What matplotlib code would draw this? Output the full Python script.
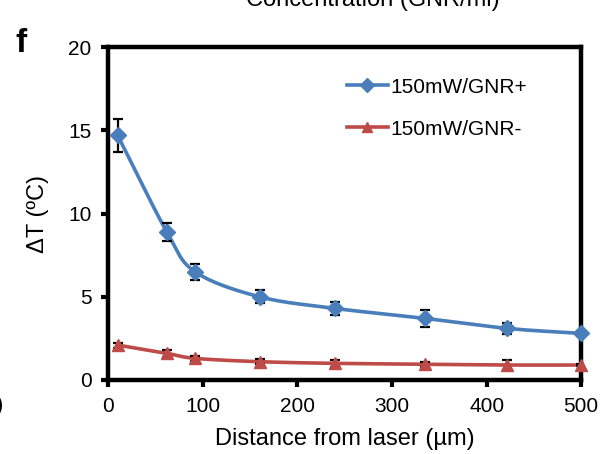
import numpy as np
import matplotlib.pyplot as plt

plt.rcParams['font.family'] = ['Liberation Sans', 'DejaVu Sans']

distance = [10, 62, 92, 160, 240, 335, 422, 500]
gnr_plus = [14.7, 8.9, 6.5, 5.0, 4.3, 3.7, 3.1, 2.8]
gnr_plus_err = [1.0, 0.55, 0.5, 0.4, 0.4, 0.5, 0.35, 0.15]
gnr_minus = [2.1, 1.6, 1.3, 1.1, 1.0, 0.95, 0.9, 0.9]
gnr_minus_err = [0.15, 0.2, 0.15, 0.15, 0.2, 0.15, 0.3, 0.05]


def smooth(x, y, n=30):
    # catmull-rom style curve through points, like excel "smoothed line"
    x = np.asarray(x, float)
    y = np.asarray(y, float)
    px = np.concatenate([[2 * x[0] - x[1]], x, [2 * x[-1] - x[-2]]])
    py = np.concatenate([[2 * y[0] - y[1]], y, [2 * y[-1] - y[-2]]])
    xs, ys = [], []
    t = np.linspace(0, 1, n)
    for i in range(1, len(px) - 2):
        for p, out in ((px, xs), (py, ys)):
            p0, p1, p2, p3 = p[i - 1], p[i], p[i + 1], p[i + 2]
            out.extend(0.5 * (2 * p1 + (-p0 + p2) * t
                              + (2 * p0 - 5 * p1 + 4 * p2 - p3) * t ** 2
                              + (-p0 + 3 * p1 - 3 * p2 + p3) * t ** 3))
    return xs, ys


blue = '#4a7ebb'
red = '#be4b48'

fig = plt.figure(figsize=(6.01, 4.54), dpi=100)
ax = fig.add_axes([0.18, 0.163, 0.787, 0.733])

for y, err, c, m, lab in [(gnr_plus, gnr_plus_err, blue, 'D', '150mW/GNR+'),
                          (gnr_minus, gnr_minus_err, red, '^', '150mW/GNR-')]:
    sx, sy = smooth(distance, y)
    ax.plot(sx, sy, color=c, lw=2.6, zorder=2)
    ax.errorbar(distance, y, yerr=err, fmt='none', ecolor='black', elinewidth=1.6,
                capsize=3.5, capthick=1.6, zorder=3)
    ax.plot(distance, y, ls='none', marker=m, color=c, ms=8 if m == 'D' else 9, zorder=4, clip_on=False)
    ax.plot([], [], color=c, lw=2.6, marker=m, ms=7, label=lab)

ax.set_xlim(0, 500)
ax.set_ylim(0, 20)
ax.set_xticks(range(0, 501, 100))
ax.set_yticks(range(0, 21, 5))
for s in ax.spines.values():
    s.set_linewidth(3.2)
ax.tick_params(direction='out', length=5, width=3, labelsize=15, pad=7)
ax.set_xlabel('Distance from laser (µm)', fontsize=17, labelpad=9)
ax.set_ylabel('ΔT (ºC)', fontsize=17, labelpad=14)

ax.legend(loc='upper right', bbox_to_anchor=(0.925, 0.965), frameon=False, fontsize=15,
          handlelength=2.0, handletextpad=0.1, labelspacing=1.1)

fig.text(0.025, 0.885, 'f', fontsize=24, fontweight='bold')
fig.text(0.62, 1.0, 'Concentration (GNR/ml)', fontsize=17, ha='center', va='center')
fig.text(-0.006, 0.107, ')', fontsize=16, va='center')

plt.savefig('out.png')
